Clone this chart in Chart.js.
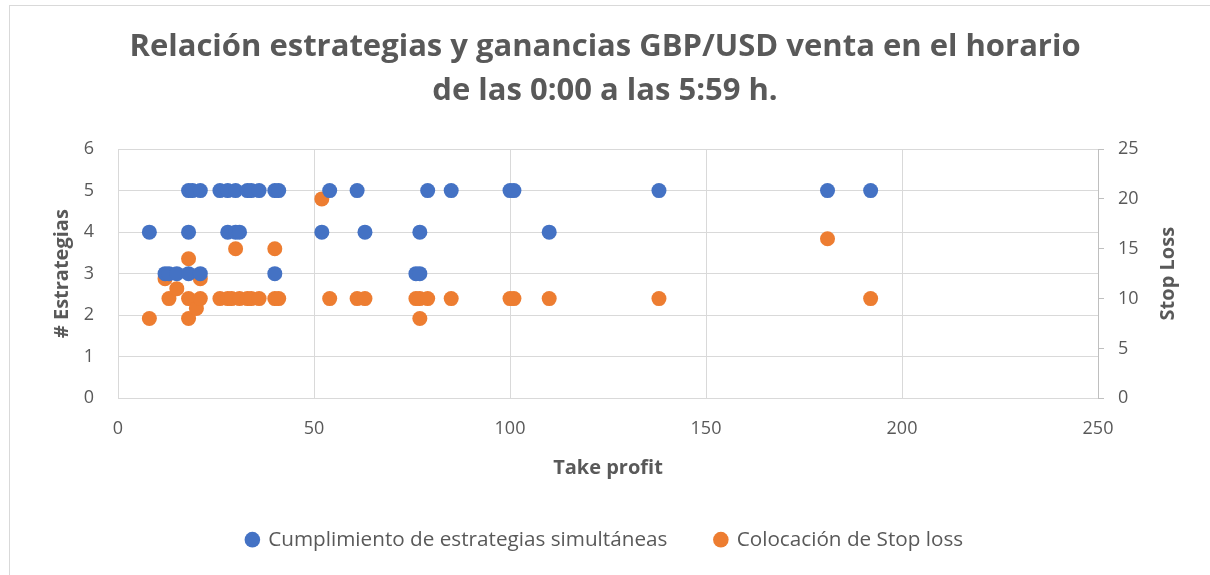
<!DOCTYPE html>
<html>
<head>
  <meta charset="utf-8">
  <script src="https://cdn.jsdelivr.net/npm/chart.js"></script>
  <style>
    body { margin: 0; background: #fff; }
    .chart-box { width: 1210px; height: 575px; }
  </style>
</head>
<body>
  <div class="chart-box">
    <canvas id="myScatter" width="1210" height="575"></canvas>
  </div>
<script>
"use strict";
// Cumplimiento de estrategias simultáneas (take profit, # estrategias)
const blueTP = [8, 12, 13, 15, 18, 21, 40, 18, 28, 30, 31, 18, 19, 21, 26, 28, 30, 33, 34, 36, 40, 41,
  52, 54, 61, 63, 76, 77, 77, 79, 85, 100, 101, 110, 138, 181, 192];
const blueStrat = [4, 3, 3, 3, 3, 3, 3, 4, 4, 4, 4, 5, 5, 5, 5, 5, 5, 5, 5, 5, 5, 5,
  4, 5, 5, 4, 3, 3, 4, 5, 5, 5, 5, 4, 5, 5, 5];

// Colocación de Stop loss (take profit, stop loss)
const orangeTP = [8, 12, 13, 15, 18, 18, 18, 20, 21, 21, 26, 28, 29, 30, 31, 33, 34, 36, 40, 40, 41,
  52, 54, 61, 63, 76, 77, 77, 79, 85, 100, 101, 110, 138, 181, 192];
const orangeSL = [8, 12, 10, 11, 14, 10, 8, 9, 12, 10, 10, 10, 10, 15, 10, 10, 10, 10, 15, 10, 10,
  20, 10, 10, 10, 10, 10, 8, 10, 10, 10, 10, 10, 10, 16, 10];

const seriesNames = ['Cumplimiento de estrategias simultáneas', 'Colocación de Stop loss'];
const titleLines = ['Relación estrategias y ganancias GBP/USD venta en el horario', 'de las 0:00 a las 5:59 h.'];

const textColor = '#595959';
const gridColor = '#d9d9d9';
const fontFamily = '"Open Sans", sans-serif';

const toPoints = (xs, ys) => xs.map((x, i) => ({x: x, y: ys[i]}));

// outer chart border + rotated right axis title
const extras = {
  id: 'extras',
  beforeDraw(chart) {
    const c = chart.ctx;
    c.save();
    c.strokeStyle = gridColor;
    c.lineWidth = 1;
    c.strokeRect(9.5, 5.5, 1210, 600);
    c.restore();
  },
  afterDraw(chart) {
    const s = chart.scales.y1;
    const c = chart.ctx;
    c.save();
    c.translate(1168, (s.top + s.bottom) / 2);
    c.rotate(-Math.PI / 2);
    c.fillStyle = textColor;
    c.font = 'bold 20px ' + fontFamily;
    c.textAlign = 'center';
    c.textBaseline = 'middle';
    c.fillText('Stop Loss', 0, 0);
    c.restore();
  }
};

new Chart(document.getElementById('myScatter'), {
  type: 'scatter',
  data: {
    datasets: [{
      label: seriesNames[0],
      data: toPoints(blueTP, blueStrat),
      backgroundColor: '#4472C4',
      borderWidth: 0,
      pointRadius: 7.5,
      yAxisID: 'y'
    }, {
      label: seriesNames[1],
      data: toPoints(orangeTP, orangeSL),
      backgroundColor: '#ED7D31',
      borderWidth: 0,
      pointRadius: 7.5,
      yAxisID: 'y1'
    }]
  },
  options: {
    responsive: false,
    animation: false,
    layout: { padding: { left: 0, right: 0, top: 0, bottom: 15 } },
    plugins: {
      title: {
        display: true,
        text: titleLines,
        color: textColor,
        font: { family: fontFamily, size: 31, weight: 'bold', lineHeight: 1.42 },
        padding: { top: 25, bottom: 36 }
      },
      legend: {
        position: 'bottom',
        labels: {
          color: textColor,
          font: { family: fontFamily, size: 20.7 },
          usePointStyle: true,
          pointStyle: 'circle',
          boxWidth: 11,
          boxHeight: 11,
          padding: 48
        }
      },
      tooltip: { enabled: false }
    },
    scales: {
      x: {
        type: 'linear',
        min: 0,
        max: 250,
        ticks: { stepSize: 50, color: textColor, font: { family: fontFamily, size: 18 }, padding: 20 },
        grid: { color: gridColor, drawTicks: false },
        border: { display: false },
        title: {
          display: true,
          text: 'Take profit',
          color: textColor,
          font: { family: fontFamily, size: 20, weight: 'bold' },
          padding: { top: 0, bottom: 1 }
        },
        afterFit(scale) { scale.height = 83; }
      },
      y: {
        position: 'left',
        min: 0,
        max: 6,
        ticks: { stepSize: 1, color: textColor, font: { family: fontFamily, size: 18 }, padding: 24 },
        grid: { color: gridColor, drawTicks: false },
        border: { display: false },
        title: {
          display: true,
          text: '# Estrategias',
          color: textColor,
          font: { family: fontFamily, size: 20, weight: 'bold' },
          padding: { top: 50, bottom: 0 }
        },
        afterFit(scale) { scale.width = 118; }
      },
      y1: {
        position: 'right',
        min: 0,
        max: 25,
        ticks: { stepSize: 5, color: textColor, font: { family: fontFamily, size: 18 }, padding: 14 },
        grid: { drawOnChartArea: false, color: '#bfbfbf', tickLength: 6 },
        border: { display: true, color: '#bfbfbf' },
        afterFit(scale) { scale.width = 112; }
      }
    }
  },
  plugins: [extras]
});
</script>
</body>
</html>
